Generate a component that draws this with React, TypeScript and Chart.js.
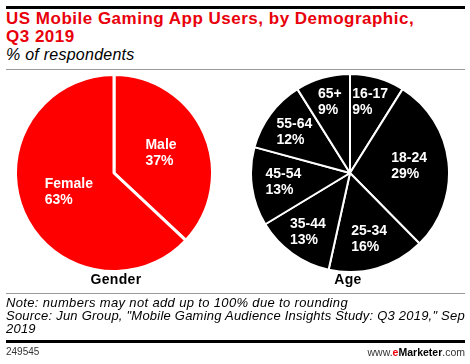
import React, { useEffect, useRef } from "react";
import { Chart, registerables } from "chart.js";
Chart.register(...registerables);

const genderLabels = ["Male", "Female"];
const genderValues = [37, 63];
const ageLabels = ["16-17", "18-24", "25-34", "35-44", "45-54", "55-64", "65+"];
const ageValues = [9, 29, 16, 13, 13, 12, 9];

const titleLines = ["US Mobile Gaming App Users, by Demographic,", "Q3 2019"];
const subtitleText = "% of respondents";
const noteText = "Note: numbers may not add up to 100% due to rounding";
const sourceText = 'Source: Jun Group, "Mobile Gaming Audience Insights Study: Q3 2019," Sep 2019';

const FONT = "'Liberation Sans', Arial, sans-serif";

function makeLabelPlugin(radii: number[]) {
  return {
    id: "sliceLabels",
    afterDatasetsDraw(chart: any) {
      const ctx = chart.ctx;
      const meta = chart.getDatasetMeta(0);
      const labels = chart.data.labels;
      const values = chart.data.datasets[0].data;
      meta.data.forEach((arc: any, i: number) => {
        const p = arc.getProps(["x", "y", "startAngle", "endAngle", "outerRadius"], true);
        const mid = (p.startAngle + p.endAngle) / 2;
        const f = radii[i];
        const px = p.x + Math.cos(mid) * p.outerRadius * f;
        const py = p.y + Math.sin(mid) * p.outerRadius * f;
        ctx.save();
        ctx.font = `bold 14px ${FONT}`;
        ctx.fillStyle = "#ffffff";
        ctx.textAlign = "left";
        ctx.textBaseline = "middle";
        const l1 = String(labels[i]);
        const l2 = values[i] + "%";
        const w = Math.max(ctx.measureText(l1).width, ctx.measureText(l2).width);
        ctx.fillText(l1, px - w / 2, py - 8);
        ctx.fillText(l2, px - w / 2, py + 8);
        ctx.restore();
      });
    },
  };
}

function PieChart(props: {
  labels: string[];
  values: number[];
  color: string;
  border: number;
  radii: number[];
  style: React.CSSProperties;
}) {
  const ref = useRef<HTMLCanvasElement>(null);
  useEffect(() => {
    const chart = new Chart(ref.current!, {
      type: "pie",
      data: {
        labels: props.labels,
        datasets: [
          {
            data: props.values,
            backgroundColor: props.color,
            borderColor: "#ffffff",
            borderWidth: props.border,
          },
        ],
      },
      options: {
        responsive: false,
        animation: false,
        layout: { padding: 0 },
        plugins: { legend: { display: false }, tooltip: { enabled: false } },
      },
      plugins: [makeLabelPlugin(props.radii)],
    });
    return () => chart.destroy();
  }, []);
  return <canvas ref={ref} width={200} height={200} style={{ position: "absolute", ...props.style }} />;
}

export default function App() {
  useEffect(() => {
    document.body.style.margin = "0";
  }, []);
  const abs = (s: React.CSSProperties): React.CSSProperties => ({ position: "absolute", ...s });
  return (
    <div style={{ position: "relative", width: 470, height: 364, background: "#fff", fontFamily: FONT, overflow: "hidden" }}>
      <div style={abs({ left: 6, top: 6, width: 459, height: 3, background: "#000" })} />
      <div
        style={abs({
          left: 6,
          top: 10,
          width: 460,
          fontSize: 17,
          lineHeight: "18px",
          fontWeight: "bold",
          color: "#e8000b",
          letterSpacing: "0.5px",
          whiteSpace: "nowrap",
        })}
      >
        {titleLines.map((t, i) => (
          <div key={i}>{t}</div>
        ))}
      </div>
      <div style={abs({ left: 6, top: 46, fontSize: 16, lineHeight: "18px", fontStyle: "italic", color: "#000", letterSpacing: "0.25px" })}>
        {subtitleText}
      </div>
      <div style={abs({ left: 6, top: 69, width: 459, height: 1, background: "#999" })} />

      <PieChart
        labels={genderLabels}
        values={genderValues}
        color="#ff0000"
        border={3}
        radii={[0.52, 0.5]}
        style={{ left: 14, top: 73 }}
      />
      <PieChart
        labels={ageLabels}
        values={ageValues}
        color="#000000"
        border={2}
        radii={[0.74, 0.6, 0.7, 0.73, 0.68, 0.7, 0.74]}
        style={{ left: 250, top: 73 }}
      />

      <div style={abs({ left: 66, top: 271, width: 100, textAlign: "center", fontSize: 14, lineHeight: "16px", fontWeight: "bold", letterSpacing: "0.3px" })}>
        Gender
      </div>
      <div style={abs({ left: 298, top: 271, width: 100, textAlign: "center", fontSize: 14, lineHeight: "16px", fontWeight: "bold", letterSpacing: "0.3px" })}>
        Age
      </div>
      <div style={abs({ left: 6, top: 293, width: 459, height: 1, background: "#999" })} />
      <div style={abs({ left: 6, top: 296, width: 462, fontSize: 13, lineHeight: "13px", fontStyle: "italic", color: "#000" })}>
        <div style={{ letterSpacing: "0.35px" }}>{noteText}</div>
        <div style={{ letterSpacing: "0.22px" }}>{sourceText}</div>
      </div>
      <div style={abs({ left: 6, top: 340, width: 459, height: 3, background: "#000" })} />
      <div style={abs({ left: 6, top: 346, fontSize: 10, lineHeight: "12px", color: "#333" })}>249545</div>
      <div style={abs({ right: 5, top: 346, fontSize: 10.5, lineHeight: "12px", color: "#333" })}>
        www.<span style={{ color: "#e8000b", fontWeight: "bold" }}>e</span>
        <span style={{ color: "#000", fontWeight: "bold" }}>Marketer</span>.com
      </div>
    </div>
  );
}
